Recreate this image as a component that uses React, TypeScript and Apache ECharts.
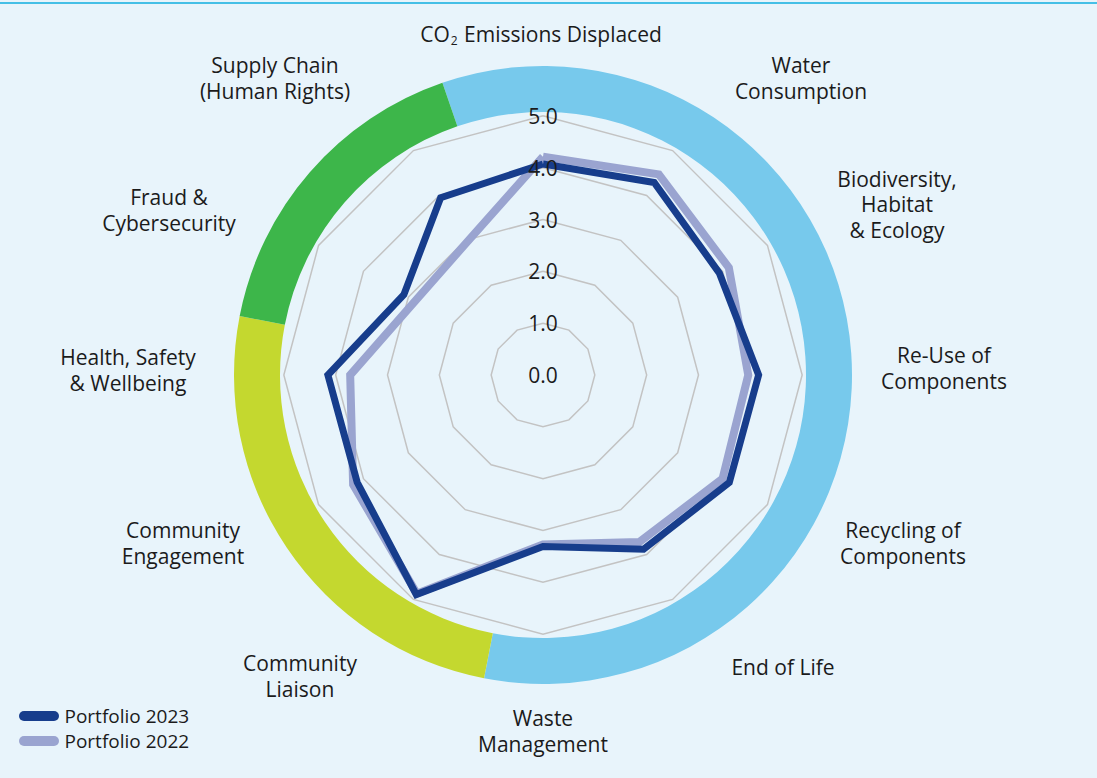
import React, { useEffect, useRef } from "react";
import * as echarts from "echarts";

// ---------- data ----------
const indicatorNames = [
  "CO2 Emissions Displaced",
  "Water\nConsumption",
  "Biodiversity,\nHabitat\n& Ecology",
  "Re-Use of\nComponents",
  "Recycling of\nComponents",
  "End of Life",
  "Waste\nManagement",
  "Community\nLiaison",
  "Community\nEngagement",
  "Health, Safety\n& Wellbeing",
  "Fraud &\nCybersecurity",
  "Supply Chain\n(Human Rights)",
];
const axisMax = 6;
const tickLabels = ["0.0", "1.0", "2.0", "3.0", "4.0", "5.0"];
const portfolio2023 = [4.07, 4.29, 3.93, 4.16, 4.15, 3.88, 3.31, 4.89, 4.14, 4.15, 3.1, 3.95];
const portfolio2022 = [4.21, 4.47, 4.14, 3.96, 4.0, 3.72, 3.27, 4.87, 4.23, 3.72, 2.85, 2.95];
const seriesNames = ["Portfolio 2023", "Portfolio 2022"];
const ringGroups = ["Environmental", "Community", "Governance"];
const ringGroupSizes = [7, 3, 2];

// ---------- layout / style ----------
const W = 1097;
const H = 778;
const CX = 543;
const CY = 375;
const R = 311;
const FONT = "'Open Sans', 'DejaVu Sans', sans-serif";
const FS = 21;
const TEXT = "#1b1b1b";
const GRID = "#c3c3c3";
const ringColors = ["#77c9ec", "#c4d82f", "#3db64a"];
const seriesColors = ["#173d8c", "#9aa4d0"];
// label block centres, offsets from radar centre
const labelOffsets = [
  [-2, -341], [258, -297], [354, -171], [401, -7], [360, 168], [240, 292],
  [0, 356], [-243, 301], [-360, 168], [-415, -5], [-374, -165], [-268, -297],
];

// ECharts radar runs counter-clockwise; reorder so indicators run clockwise
const cw = <T,>(arr: T[]): T[] => [arr[0], ...arr.slice(1).reverse()];

export default function App() {
  const ref = useRef<HTMLDivElement>(null);
  useEffect(() => {
    if (!ref.current) return;
    const chart = echarts.init(ref.current, undefined, { renderer: "svg" });

    const baseIndicators = cw(indicatorNames).map((name) => ({ name, min: 0, max: axisMax }));
    const labelIndicators = cw(indicatorNames).map((name, i) => {
      const ind: any = { name, min: 0, max: axisMax };
      if (i === 0) {
        ind.axisLabel = {
          show: true,
          align: "center",
          verticalAlign: "middle",
          margin: 0,
          fontSize: FS,
          fontFamily: FONT,
          color: TEXT,
          formatter: (v: number) => (v >= axisMax ? "" : tickLabels[Math.round(v)] ?? v.toFixed(1)),
        };
      }
      return ind;
    });

    const splitColors = [GRID, GRID, GRID, GRID, GRID, GRID, "rgba(0,0,0,0)"];

    const labelGraphics = indicatorNames.map((name, i) => {
      const x = CX + labelOffsets[i][0];
      const y = CY + labelOffsets[i][1];
      const isCO2 = name.startsWith("CO2");
      const style: any = {
        x,
        y,
        text: isCO2 ? "{n|CO}{s|2}{n|" + name.slice(3) + "}" : name,
        align: "center",
        verticalAlign: "middle",
        textAlign: "center",
        textVerticalAlign: "middle",
        fontSize: FS,
        fontFamily: FONT,
        fill: TEXT,
        lineHeight: 25.5,
      };
      if (isCO2) {
        style.rich = {
          n: { fontSize: FS, fontFamily: FONT, fill: TEXT },
          s: { fontSize: 12, fontFamily: FONT, fill: TEXT, padding: [12, 1, 0, 1] },
        };
      }
      return { type: "text", silent: true, z: 10, style };
    });

    const radarCommon = {
      center: [CX, CY],
      radius: R,
      startAngle: 90,
      splitNumber: 6,
      shape: "polygon",
      axisName: { show: false },
      axisLine: { show: false },
      axisTick: { show: false },
      splitArea: { show: false },
    };

    chart.setOption({
      animation: false,
      backgroundColor: "#e8f4fb",
      legend: {
        data: seriesNames,
        orient: "vertical",
        left: 14,
        top: 701,
        itemWidth: 41,
        itemHeight: 10,
        itemGap: 5,
        icon: "path://M5,0 H35 A5,5 0 0 1 35,10 H5 A5,5 0 0 1 5,0 Z",
        selectedMode: false,
        textStyle: { fontSize: 19, fontFamily: FONT, color: TEXT, lineHeight: 20 },
      },
      radar: [
        {
          ...radarCommon,
          z: 0,
          indicator: baseIndicators,
          axisLabel: { show: false },
          splitLine: { lineStyle: { color: splitColors, width: 1.5 } },
        },
        {
          ...radarCommon,
          z: 20,
          zlevel: 0,
          indicator: labelIndicators,
          axisLabel: { show: false },
          splitLine: { show: false },
        },
      ],
      series: [
        {
          type: "pie",
          silent: true,
          z: 1,
          center: [CX, CY],
          radius: [263, 309],
          startAngle: 109,
          clockwise: true,
          label: { show: false },
          labelLine: { show: false },
          itemStyle: { borderWidth: 0 },
          data: ringGroups.map((g, i) => ({
            name: g,
            value: ringGroupSizes[i],
            itemStyle: { color: ringColors[i] },
          })),
        },
        {
          type: "radar",
          radarIndex: 0,
          z: 2,
          symbol: "none",
          silent: true,
          data: [
            {
              name: seriesNames[1],
              value: cw(portfolio2022),
              lineStyle: { color: seriesColors[1], width: 8, join: "miter" },
              itemStyle: { color: seriesColors[1] },
            },
            {
              name: seriesNames[0],
              value: cw(portfolio2023),
              lineStyle: { color: seriesColors[0], width: 7, join: "miter" },
              itemStyle: { color: seriesColors[0] },
            },
          ],
        },
      ],
      graphic: [
        {
          type: "rect",
          left: 0,
          top: 2,
          silent: true,
          shape: { width: W, height: 2 },
          style: { fill: "#45bfe6" },
        },
        ...labelGraphics,
      ],
    });
    return () => chart.dispose();
  }, []);
  return (
    <div
      ref={ref}
      style={{ position: "fixed", left: 0, top: 0, width: W, height: H }}
    />
  );
}
